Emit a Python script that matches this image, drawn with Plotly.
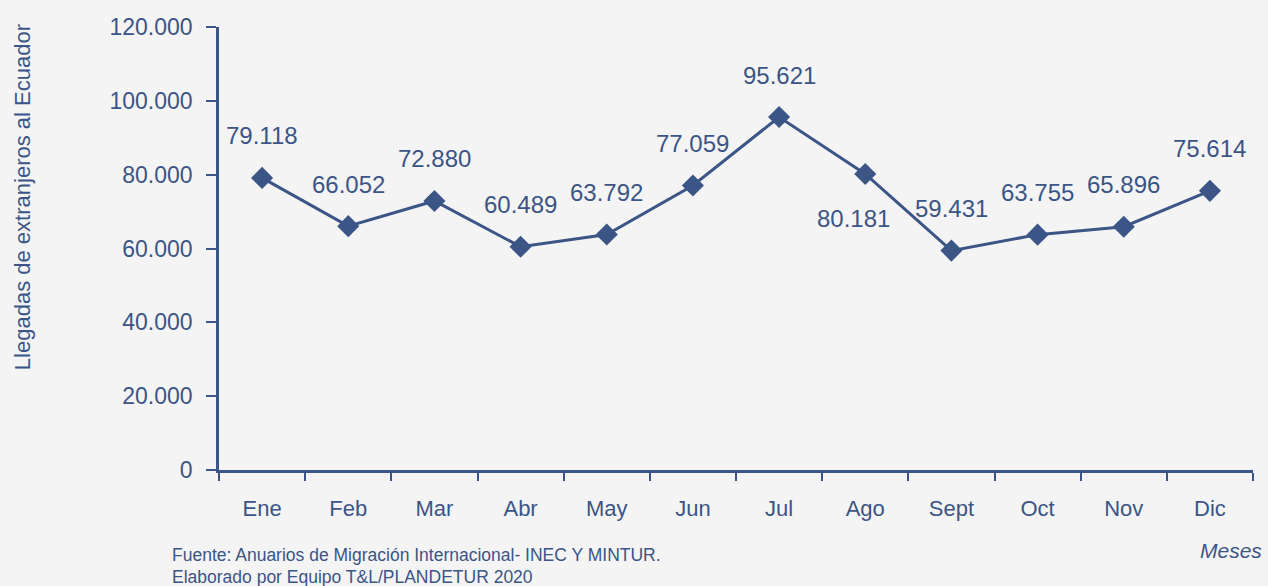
import plotly.graph_objects as go

months = ["Ene", "Feb", "Mar", "Abr", "May", "Jun", "Jul", "Ago", "Sept", "Oct", "Nov", "Dic"]
arrivals = [79118, 66052, 72880, 60489, 63792, 77059, 95621, 80181, 59431, 63755, 65896, 75614]
y_ticks = [0, 20000, 40000, 60000, 80000, 100000, 120000]

C = "#3b5586"
BG = "#f4f4f4"
FONT = "Liberation Sans, Arial, sans-serif"
NARROW = "Liberation Sans Narrow, Arial Narrow, Liberation Sans, sans-serif"

def fmt(v):
    return f"{v:,}".replace(",", ".")

fig = go.Figure()
fig.add_trace(go.Scatter(
    x=months, y=arrivals, mode="lines+markers",
    line=dict(color=C, width=3),
    marker=dict(symbol="diamond", size=17, color=C),
    hoverinfo="x+y", showlegend=False,
))

for m, v in zip(months, arrivals):
    if m == "Ago":
        fig.add_annotation(x=m, y=v, text=fmt(v), showarrow=False, yshift=-44, xshift=-12,
                           font=dict(family=FONT, size=24, color=C))
    else:
        fig.add_annotation(x=m, y=v, text=fmt(v), showarrow=False, yshift=42,
                           font=dict(family=FONT, size=24, color=C))

fig.add_annotation(xref="paper", yref="paper", x=-0.1905, y=0.616, text="Llegadas de extranjeros al Ecuador",
                   textangle=-90, showarrow=False, xanchor="center", yanchor="middle",
                   font=dict(family=NARROW, size=22, color=C))
fig.add_annotation(xref="paper", yref="paper", x=-0.0474, y=-0.192,
                   text="Fuente: Anuarios de Migración Internacional- INEC Y MINTUR.",
                   showarrow=False, xanchor="left", yanchor="middle",
                   font=dict(family=NARROW, size=17.5, color=C))
fig.add_annotation(xref="paper", yref="paper", x=-0.0474, y=-0.2415,
                   text="Elaborado por Equipo T&L/PLANDETUR 2020",
                   showarrow=False, xanchor="left", yanchor="middle",
                   font=dict(family=NARROW, size=17.5, color=C))
fig.add_annotation(xref="paper", yref="paper", x=1.0106, y=-0.1806, text="<i>Meses</i>",
                   showarrow=False, xanchor="right", yanchor="middle",
                   font=dict(family=NARROW, size=21, color=C))

fig.update_layout(
    width=1268, height=586,
    margin=dict(l=219, r=15, t=27, b=116),
    paper_bgcolor=BG, plot_bgcolor=BG,
    separators=",.",
    font=dict(family=FONT, color=C, size=22),
    xaxis=dict(
        type="category", tickson="boundaries", showgrid=False, zeroline=False,
        showline=True, linecolor=C, linewidth=2.5,
        ticks="outside", ticklen=8, tickwidth=2, tickcolor=C,
        tickfont=dict(family=FONT, size=22, color=C), ticklabelstandoff=17,
        range=[-0.5, 11.5],
    ),
    yaxis=dict(
        range=[0, 120000], tickvals=y_ticks, tickformat=",d", showgrid=False, zeroline=False,
        showline=True, linecolor=C, linewidth=2.5,
        ticks="outside", ticklen=10, tickwidth=2, tickcolor=C,
        tickfont=dict(family=FONT, size=23, color=C), ticklabelstandoff=9,
    ),
)

fig.write_html("out.html", config={"displayModeBar": False},
               post_script="document.body.style.margin='0px';document.body.style.overflow='hidden';document.body.style.background='#f4f4f4';")
